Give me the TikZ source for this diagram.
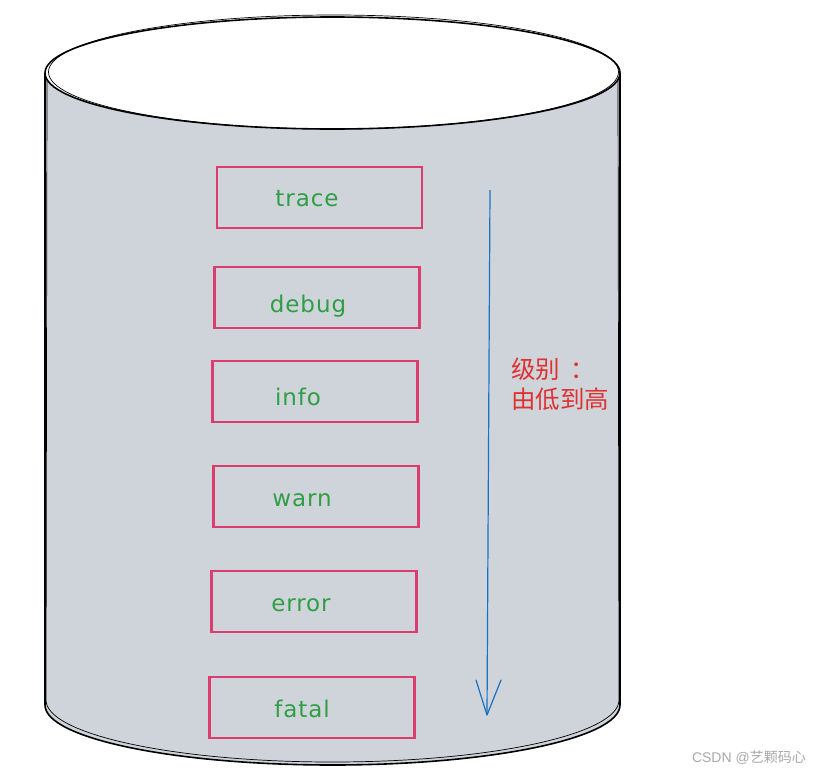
\documentclass[tikz,border=0pt]{standalone}
\usepackage{fontspec}
\setmainfont{DejaVu Sans}
\newfontfamily\hand[LetterSpace=4]{DejaVu Sans}
\newfontfamily\cjk{Noto Sans CJK SC}
\newfontfamily\wmfont{Liberation Sans}
\definecolor{cylgray}{HTML}{CFD4DB}
\definecolor{boxpink}{HTML}{DC3D6F}
\definecolor{txtgreen}{HTML}{2F9E44}
\definecolor{arrblue}{HTML}{1971C2}
\definecolor{lblred}{HTML}{E03131}
\definecolor{wmgray}{HTML}{A8A8A8}
\tikzset{
  lvlbox/.style={draw=boxpink, line width=2.4pt, minimum width=205pt, minimum height=61pt, inner sep=0pt},
  lvltext/.style={text=txtgreen, font=\hand\fontsize{23}{26}\selectfont, inner sep=0pt, anchor=center},
  cylline/.style={draw=black, line width=1.6pt},
  cylsketch/.style={draw=black, line width=0.7pt},
}
\begin{document}
\begin{tikzpicture}[x=1pt,y=-1pt]
\useasboundingbox (0,0) rectangle (821,776);
% cylinder body
\path[fill=cylgray] (45,73) -- (45,705) arc[start angle=180,end angle=0,x radius=287.5,y radius=60] -- (620,73) -- cycle;
\draw[cylline] (45,73) -- (45,705) arc[start angle=180,end angle=0,x radius=287.5,y radius=60] -- (620,73);
\draw[cylsketch] (47,78) -- (46,700) arc[start angle=180,end angle=0,x radius=286.5,y radius=62] -- (618,80);
% top ellipse
\draw[cylline, fill=white] (332.5,73) ellipse [x radius=287.5, y radius=56];
\draw[cylsketch] (333.5,72) ellipse [x radius=285, y radius=57];
% boxes
\node[lvlbox] (b1) at (319.5,197.5) {};
\node[lvlbox] (b2) at (317,297.5) {};
\node[lvlbox] (b3) at (315,391.5) {};
\node[lvlbox] (b4) at (316,496.5) {};
\node[lvlbox] (b5) at (314,601.5) {};
\node[lvlbox] (b6) at (312,707.5) {};
% texts
\node[lvltext] (t1) at (307,199) {trace};
\node[lvltext] (t2) at (308,306) {debug};
\node[lvltext] (t3) at (298,397) {info};
\node[lvltext] (t4) at (302,500) {warn};
\node[lvltext] (t5) at (301,605) {error};
\node[lvltext] (t6) at (302,709) {fatal};
% arrow
\coordinate (as) at (490,190);
\coordinate (ae) at (487,715);
\coordinate (al) at (476,680);
\coordinate (ar) at (501,680);
\draw[arrblue, line width=1.2pt] (as) -- (ae);
\draw[arrblue, line width=1.2pt, line cap=round, line join=round] (al) -- (ae) -- (ar);
% label
\node[text=lblred, font=\cjk\fontsize{24.5}{30}\selectfont, anchor=north west, align=left, inner sep=0pt] (lbl) at (511,358) {级别\hspace{10pt}：\\由低到高};
% watermark
\node[text=wmgray, font=\fontsize{14}{16}\selectfont, anchor=east, inner sep=0pt] (wm) at (806,758) {\wmfont CSDN @\cjk 艺颗码心};
\end{tikzpicture}
\end{document}
